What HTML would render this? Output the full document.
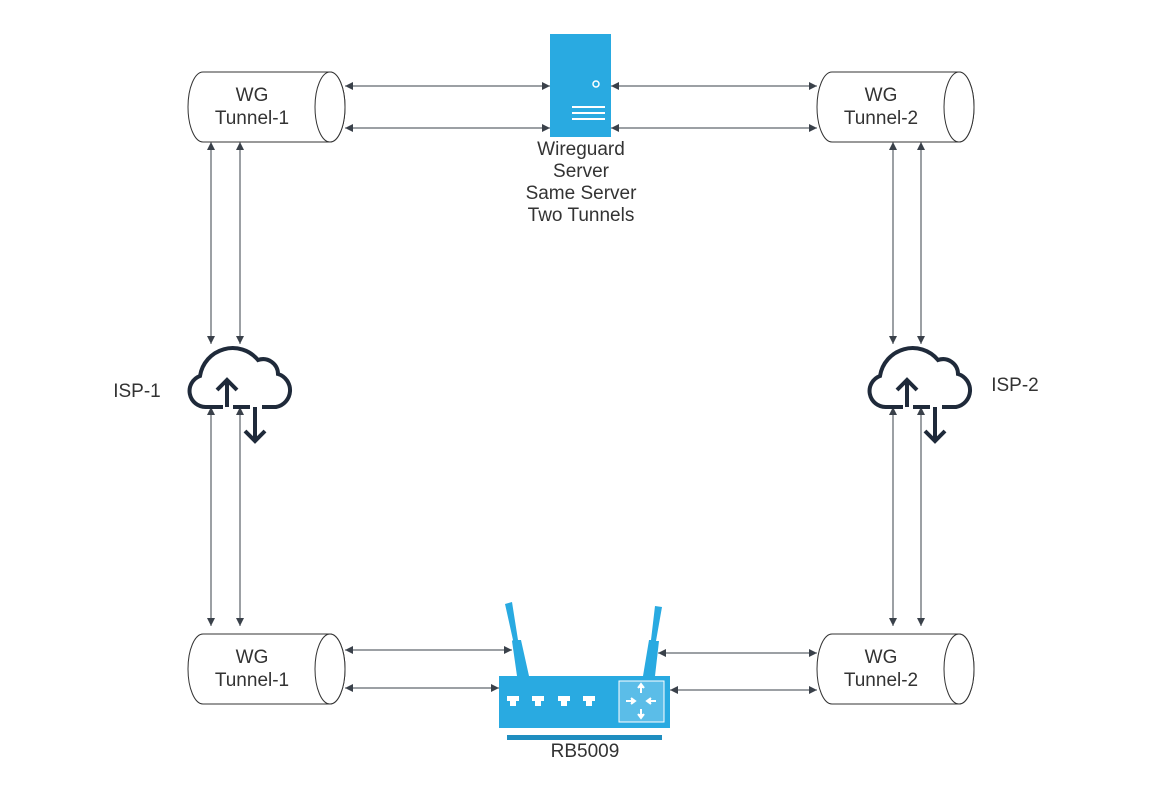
<!DOCTYPE html>
<html><head><meta charset="utf-8"><style>
body{margin:0;background:#fff}
svg{display:block}
text{font-family:"Liberation Sans",sans-serif;font-size:19px;fill:#333;text-anchor:middle}
</style></head><body>
<svg width="1153" height="800" viewBox="0 0 1153 800">
<defs>
<marker id="a" viewBox="0 0 10 10" refX="10" refY="5" markerWidth="10" markerHeight="8" markerUnits="userSpaceOnUse" orient="auto-start-reverse"><path d="M0 0 L10 5 L0 10 z" fill="#3a414a"/></marker>
<g id="cloud" fill="none" stroke="#1f2a3a" stroke-width="4">
<path d="M33 63 H16 A16 16 0 0 1 10 32 A33 33 0 0 1 68 16 A15 15 0 0 1 88 30 A17 17 0 0 1 86 63 H72"/>
<path d="M43 63 H60"/>
<path d="M37 63 V36 M27 46 L37 36 L47 46"/>
<path d="M65 63 V97 M55 87 L65 97 L75 87"/>
</g>
<g id="cyl" fill="#fff" stroke="#333" stroke-width="1">
<path d="M15 0 H142 A15 35 0 0 1 142 70 H15 A15 35 0 0 1 15 0 Z"/>
<ellipse cx="142" cy="35" rx="15" ry="35"/>
</g>
</defs>
<g stroke="#3a414a" stroke-width="1" marker-start="url(#a)" marker-end="url(#a)" fill="none">
<line x1="345" y1="86" x2="550" y2="86"/>
<line x1="345" y1="128" x2="550" y2="128"/>
<line x1="611" y1="86" x2="817" y2="86"/>
<line x1="611" y1="128" x2="817" y2="128"/>
<line x1="211" y1="142" x2="211" y2="344"/>
<line x1="240" y1="142" x2="240" y2="344"/>
<line x1="211" y1="407" x2="211" y2="626"/>
<line x1="240" y1="407" x2="240" y2="626"/>
<line x1="893" y1="142" x2="893" y2="344"/>
<line x1="921" y1="142" x2="921" y2="344"/>
<line x1="893" y1="407" x2="893" y2="626"/>
<line x1="921" y1="407" x2="921" y2="626"/>
<line x1="345" y1="650" x2="512" y2="650"/>
<line x1="345" y1="688" x2="499" y2="688"/>
<line x1="658" y1="653" x2="817" y2="653"/>
<line x1="670" y1="690" x2="817" y2="690"/>
</g>
<use href="#cyl" x="188" y="72"/>
<use href="#cyl" x="817" y="72"/>
<use href="#cyl" x="188" y="634"/>
<use href="#cyl" x="817" y="634"/>
<text x="252" y="101">WG</text><text x="252" y="124">Tunnel-1</text>
<text x="881" y="101">WG</text><text x="881" y="124">Tunnel-2</text>
<text x="252" y="663">WG</text><text x="252" y="686">Tunnel-1</text>
<text x="881" y="663">WG</text><text x="881" y="686">Tunnel-2</text>
<rect x="550" y="34" width="61" height="103" fill="#29aae1"/>
<circle cx="596" cy="84" r="3" fill="none" stroke="#fff" stroke-width="1.5"/>
<path d="M572 107 H605 M572 113 H605 M572 119 H605" stroke="#fff" stroke-width="2"/>
<text x="581" y="155">Wireguard</text>
<text x="581" y="177">Server</text>
<text x="581" y="199">Same Server</text>
<text x="581" y="221">Two Tunnels</text>
<use href="#cloud" x="190" y="344"/>
<use href="#cloud" x="870" y="344"/>
<text x="137" y="397">ISP-1</text>
<text x="1015" y="391">ISP-2</text>
<g fill="#29aae1">
<path d="M505 604 L512 602 L518 640 L521 640 L529 676 L517 676 L512 641 L513 640 Z"/>
<path d="M655 606 L662 607 L656 641 L659 641 L655 676 L643 676 L649 640 L651 640 Z"/>
<rect x="499" y="676" width="171" height="52"/>
<rect x="507" y="735" width="155" height="5" fill="#1f8ec0"/>
</g>
<g fill="#fff">
<rect x="507" y="696" width="12" height="5"/><rect x="510" y="700" width="6" height="6"/>
<rect x="532" y="696" width="12" height="5"/><rect x="535" y="700" width="6" height="6"/>
<rect x="558" y="696" width="12" height="5"/><rect x="561" y="700" width="6" height="6"/>
<rect x="583" y="696" width="12" height="5"/><rect x="586" y="700" width="6" height="6"/>
</g>
<rect x="619" y="681" width="45" height="41" fill="#5bbde8" stroke="#fff" stroke-width="1"/>
<g stroke="#fff" stroke-width="2" fill="#fff">
<path d="M641 684 V693 M638 688 L641 684 L644 688"/>
<path d="M641 709 V718 M638 714 L641 718 L644 714"/>
<path d="M626 701 H635 M631 698 L635 701 L631 704"/>
<path d="M647 701 H656 M651 698 L647 701 L651 704"/>
</g>
<text x="585" y="757">RB5009</text>
</svg>
</body></html>
